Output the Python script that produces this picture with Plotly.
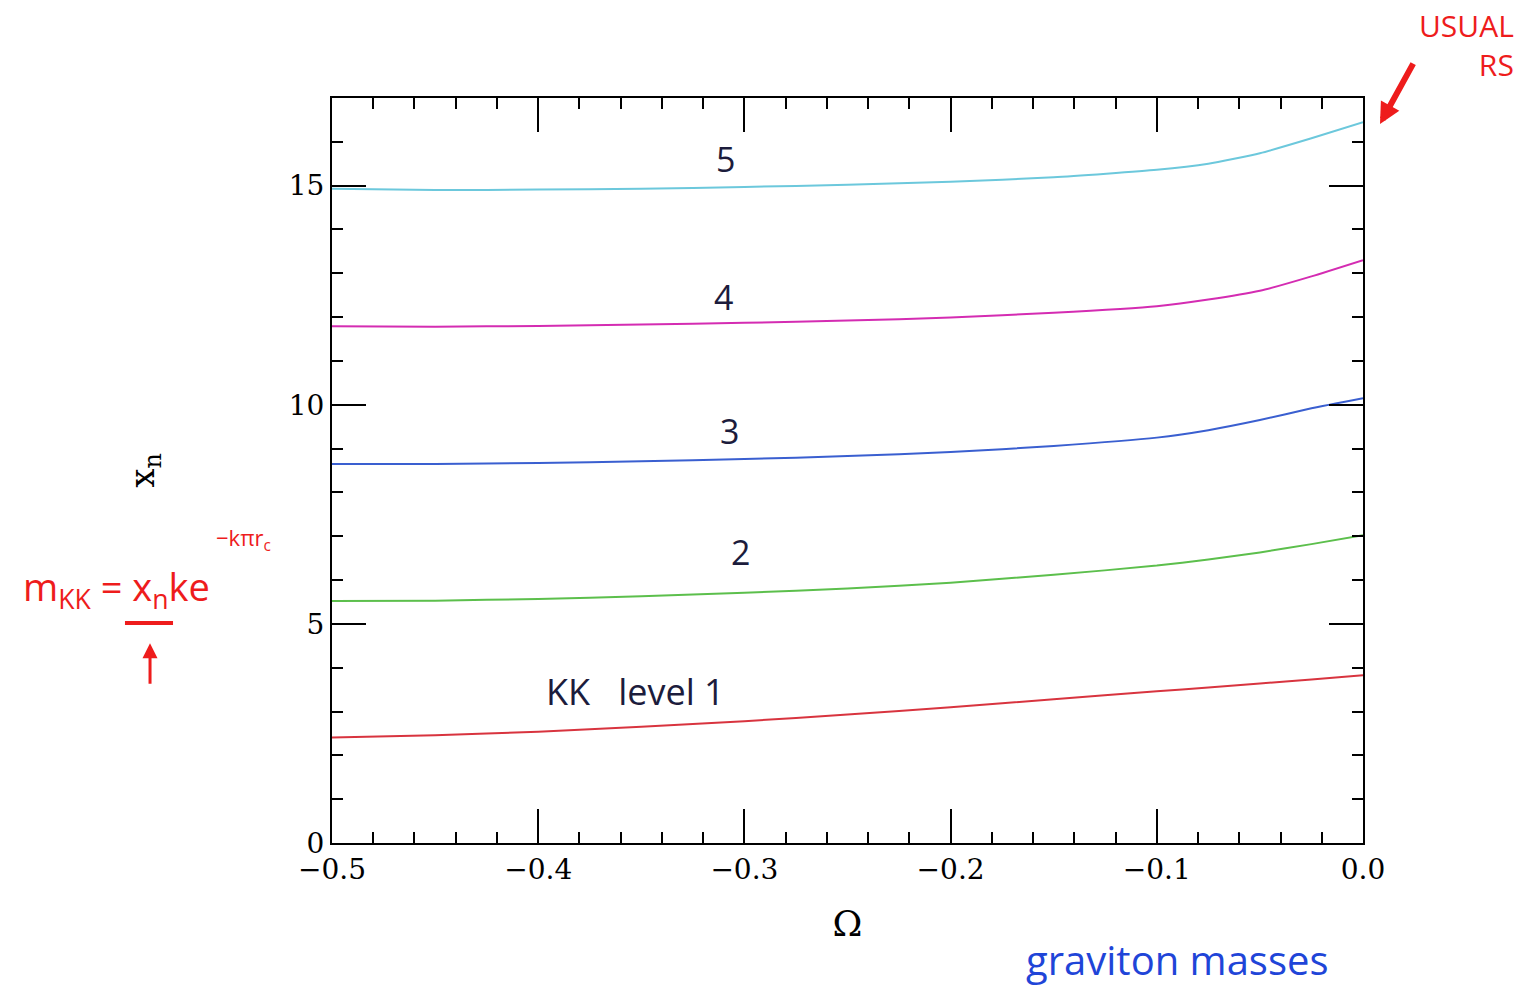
import plotly.graph_objects as go

# Omega grid and the first five KK graviton roots x_n
omega = [-0.5, -0.45, -0.4, -0.35, -0.3, -0.25, -0.2, -0.15, -0.1, -0.075, -0.05, -0.025, 0.0]
x1 = [2.41, 2.46, 2.54, 2.65, 2.78, 2.93, 3.10, 3.28, 3.46, 3.55, 3.64, 3.73, 3.83]
x2 = [5.52, 5.53, 5.57, 5.63, 5.71, 5.81, 5.94, 6.12, 6.33, 6.47, 6.63, 6.82, 7.02]
x3 = [8.65, 8.65, 8.67, 8.71, 8.76, 8.83, 8.92, 9.06, 9.25, 9.42, 9.65, 9.92, 10.15]
x4 = [11.79, 11.78, 11.80, 11.83, 11.87, 11.92, 11.99, 12.10, 12.25, 12.40, 12.60, 12.93, 13.30]
x5 = [14.93, 14.90, 14.91, 14.93, 14.97, 15.02, 15.09, 15.19, 15.36, 15.50, 15.74, 16.08, 16.45]

series = [x1, x2, x3, x4, x5]
colors = ["#d8343f", "#5cbf4c", "#3a5fd0", "#d42cb2", "#6cc8dc"]

x_ticks = [-0.5, -0.4, -0.3, -0.2, -0.1, 0.0]
y_ticks = [0, 5, 10, 15]

fig = go.Figure()
for ys, c in zip(series, colors):
    fig.add_trace(go.Scatter(x=omega, y=ys, mode="lines",
                             line=dict(color=c, width=2, shape="spline", smoothing=0.5),
                             showlegend=False, hoverinfo="skip"))

axis_common = dict(
    showline=True, linecolor="black", linewidth=2, mirror="allticks",
    ticks="inside", ticklen=34, tickwidth=2, tickcolor="black",
    showgrid=False, zeroline=False,
    tickfont=dict(family="DejaVu Serif", size=28, color="black"),
)

fig.update_xaxes(range=[-0.5, 0.0], tickvals=x_ticks, tickformat=".1f",
                 minor=dict(ticks="inside", ticklen=11, tickwidth=2, dtick=0.02,
                            tickcolor="black", showgrid=False),
                 title=dict(text="Ω", font=dict(family="DejaVu Serif", size=36, color="black"),
                            standoff=26),
                 **axis_common)
fig.update_yaxes(range=[0, 17], tickvals=y_ticks,
                 minor=dict(ticks="inside", ticklen=11, tickwidth=2, dtick=1,
                            tickcolor="black", showgrid=False),
                 title=dict(text="x<sub>n</sub>", font=dict(family="DejaVu Serif", size=34, color="black"),
                            standoff=124),
                 **axis_common)

hand = "Open Sans"
ink = "#1c1c3c"
annos = [
    dict(x=-0.309, y=15.6, text="5", size=34),
    dict(x=-0.310, y=12.45, text="4", size=34),
    dict(x=-0.307, y=9.4, text="3", size=34),
    dict(x=-0.302, y=6.65, text="2", size=34),
    dict(x=-0.353, y=3.45, text="KK   level 1", size=36),
]
for a in annos:
    fig.add_annotation(x=a["x"], y=a["y"], text=a["text"], showarrow=False,
                       xanchor="center", yanchor="middle",
                       font=dict(family=hand, size=a["size"], color=ink))

red = "#ee1c1c"
# "USUAL RS" note with its arrow pointing at the Omega = 0 end
fig.add_annotation(xref="paper", yref="paper", x=1.10, y=1.071, text="USUAL<br>RS",
                   showarrow=False, align="right", xanchor="center", yanchor="middle",
                   font=dict(family=hand, size=30, color=red))
fig.add_annotation(xref="paper", yref="paper", x=1.0165, y=0.965, ax=34, ay=-62,
                   text="", showarrow=True,
                   arrowcolor=red, arrowwidth=6, arrowhead=2, arrowsize=0.7)

# mass formula on the left
fig.add_annotation(xref="paper", yref="paper", x=-0.2095, y=0.342,
                   text="m<sub>KK</sub> = x<sub>n</sub>ke", showarrow=False,
                   xanchor="center", yanchor="middle",
                   font=dict(family=hand, size=38, color=red))
fig.add_annotation(xref="paper", yref="paper", x=-0.0855, y=0.408,
                   text="−kπr<sub>c</sub>", showarrow=False,
                   xanchor="center", yanchor="middle",
                   font=dict(family=hand, size=22, color=red))
fig.add_shape(type="line", xref="paper", yref="paper",
              x0=-0.2008, x1=-0.1542, y0=0.2953, y1=0.2953,
              line=dict(color=red, width=4))
fig.add_annotation(xref="paper", yref="paper", x=-0.1765, y=0.268, ax=0, ay=42,
                   text="", showarrow=True, arrowcolor=red, arrowwidth=3,
                   arrowhead=2, arrowsize=1)

fig.add_annotation(xref="paper", yref="paper", x=0.82, y=-0.157,
                   text="graviton masses", showarrow=False,
                   xanchor="center", yanchor="middle",
                   font=dict(family=hand, size=40, color="#1f45d8"))

fig.update_layout(
    width=1531, height=998,
    margin=dict(l=332, r=168, t=98, b=155),
    paper_bgcolor="white", plot_bgcolor="white",
)

fig.write_html("out.html")
